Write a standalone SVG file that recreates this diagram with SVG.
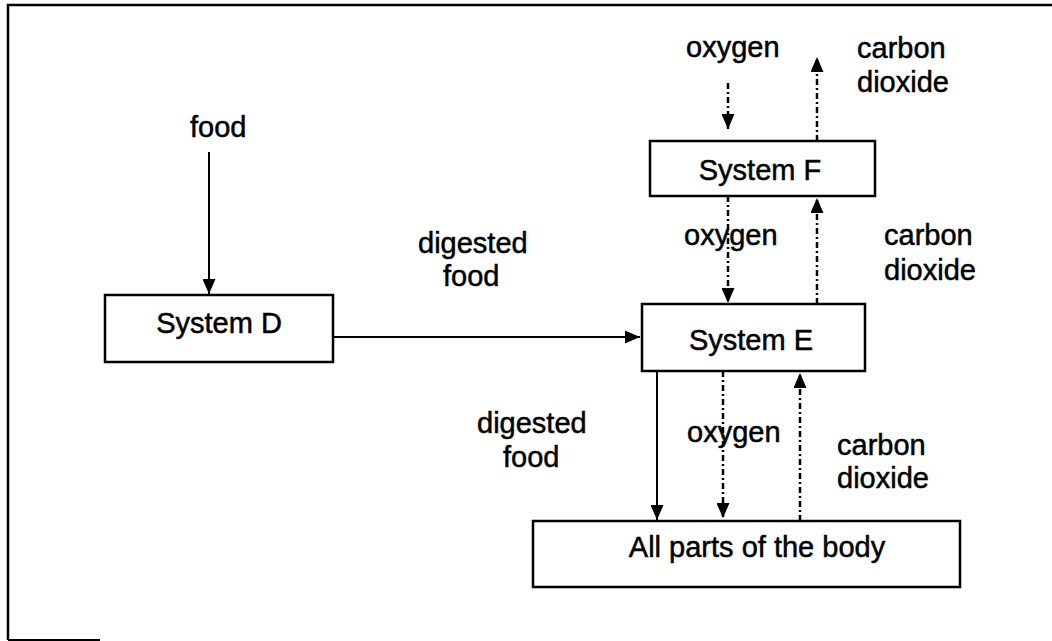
<svg xmlns="http://www.w3.org/2000/svg" width="1052" height="641" viewBox="0 0 1052 641">
<style>
.box{fill:#fff;stroke:#000;stroke-width:2.5}
.lbl{font-family:"Liberation Sans",Arial,sans-serif;font-size:29px;fill:#000;stroke:#000;stroke-width:0.5}
.solid{fill:none;stroke:#000;stroke-width:2}
.dash{fill:none;stroke:#000;stroke-width:2.5;stroke-dasharray:6 3 2 3}
</style>
<defs>
<marker id="ah" viewBox="0 0 15 13" markerUnits="userSpaceOnUse" markerWidth="15" markerHeight="13" refX="15" refY="6.5" orient="auto">
<path d="M0,0 L15,6.5 L0,13 z" fill="#000"/>
</marker>
</defs>
<rect width="1052" height="641" fill="#fff"/>
<g id="frame">
<path d="M8,640 V5 H1052" fill="none" stroke="#000" stroke-width="2.5"/>
<path d="M8,640 H100" fill="none" stroke="#000" stroke-width="2"/>
</g>
<g id="connectors">
<path class="solid" d="M209,152 V294" marker-end="url(#ah)"/>
<path class="solid" d="M333,337 H640" marker-end="url(#ah)"/>
<path class="dash" d="M728,83 V129" marker-end="url(#ah)"/>
<path class="dash" d="M817,141 V57" marker-end="url(#ah)"/>
<path class="dash" d="M728,196 V303" marker-end="url(#ah)"/>
<path class="dash" d="M817,304 V198" marker-end="url(#ah)"/>
<path class="solid" d="M657,371 V520" marker-end="url(#ah)"/>
<path class="dash" d="M723,371 V518" marker-end="url(#ah)"/>
<path class="dash" d="M800,521 V373" marker-end="url(#ah)"/>
</g>
<g id="labels">
<text class="lbl" x="190" y="137">food</text>
<text class="lbl" x="418" y="253">digested</text>
<text class="lbl" x="443" y="286">food</text>
<text class="lbl" x="686" y="57">oxygen</text>
<text class="lbl" x="857" y="58">carbon</text>
<text class="lbl" x="857" y="92">dioxide</text>
<text class="lbl" x="684" y="245">oxygen</text>
<text class="lbl" x="884" y="245">carbon</text>
<text class="lbl" x="884" y="280">dioxide</text>
<text class="lbl" x="477" y="433">digested</text>
<text class="lbl" x="503" y="467">food</text>
<text class="lbl" x="687" y="442">oxygen</text>
<text class="lbl" x="837" y="455">carbon</text>
<text class="lbl" x="837" y="488">dioxide</text>
</g>
<g id="systemD">
<rect class="box" x="105" y="295" width="228" height="67"/>
<text class="lbl" x="219" y="333" text-anchor="middle">System D</text>
</g>
<g id="systemF">
<rect class="box" x="650" y="141" width="225" height="55"/>
<text class="lbl" x="760" y="180" text-anchor="middle">System F</text>
</g>
<g id="systemE">
<rect class="box" x="642" y="304" width="223" height="67"/>
<text class="lbl" x="751" y="350" text-anchor="middle">System E</text>
</g>
<g id="body">
<rect class="box" x="533" y="521" width="427" height="66"/>
<text class="lbl" x="757" y="557" text-anchor="middle">All parts of the body</text>
</g>
</svg>
